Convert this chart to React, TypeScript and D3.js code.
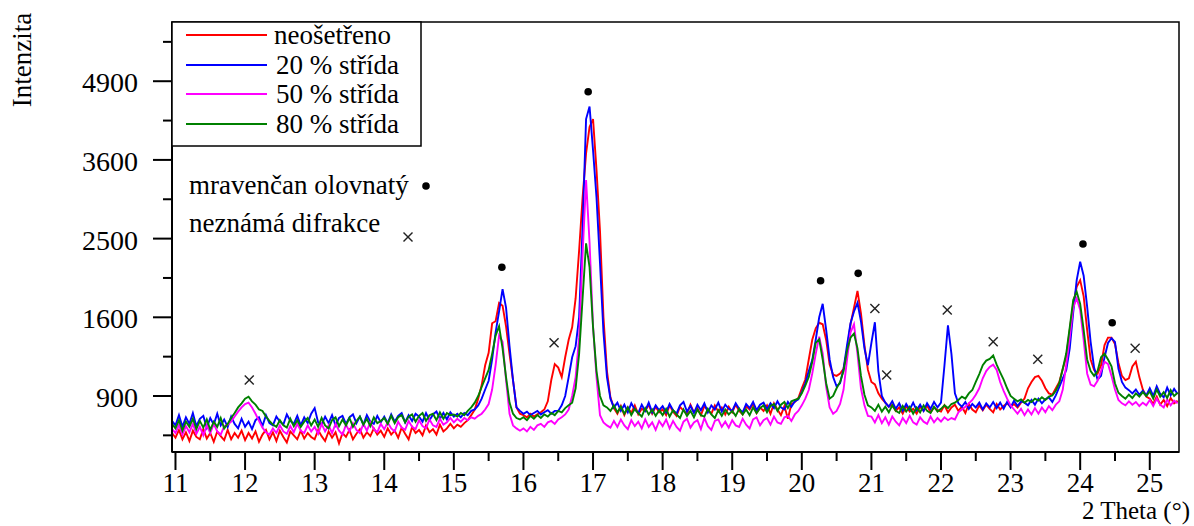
import React from "react";
import * as d3 from "d3";

// measurement grid (2 Theta, degrees)
const THETA_START = 10.95;
const THETA_STEP = 0.05;

// intensities, one value per grid step (10.95 … 25.40)
const NEOSETRENO = [
  640,
  610, 660, 600, 645, 590, 655, 615, 600, 665, 605, 640, 585, 650, 620, 595, 660, 600, 640, 610, 655,
  595, 640, 605, 650, 585, 630, 660, 600, 645, 590, 655, 615, 580, 650, 625, 600, 655, 605, 640, 615,
  600, 660, 620, 590, 650, 610, 645, 575, 640, 615, 660, 600, 635, 665, 610, 645, 620, 670, 630, 655,
  615, 670, 630, 655, 610, 675, 635, 600, 680, 640, 660, 625, 690, 645, 665, 630, 695, 650, 670, 700,
  670, 695, 680, 705, 725, 760, 800, 880, 985, 1150, 1260, 1540, 1560, 1750, 1720, 1510, 1250, 1026, 815, 770,
  760, 745, 770, 750, 765, 780, 800, 860, 1026, 1160, 1130, 1050, 1220, 1380, 1500, 1800, 2350, 3050, 3700, 4120,
  4250, 3450, 2600, 1600, 1100, 890, 810, 770, 825, 760, 815, 775, 830, 765, 805, 790, 835, 770, 820, 780,
  800, 760, 830, 785, 755, 820, 790, 770, 835, 780, 810, 760, 825, 795, 770, 830, 785, 815, 765, 820,
  780, 835, 790, 765, 825, 800, 840, 775, 815, 790, 830, 770, 845, 800, 760, 825, 735, 840, 855, 885,
  960, 1030, 1200, 1380, 1490, 1545, 1530, 1378, 1155, 1070, 1060, 1080, 1120, 1280, 1530, 1700, 1880, 1640, 1330, 1110,
  1010, 990, 920, 880, 850, 820, 835, 790, 815, 770, 825, 785, 805, 770, 820, 790, 830, 780, 815, 795,
  785, 830, 780, 815, 835, 790, 820, 775, 840, 800, 780, 830, 795, 835, 805, 780, 840, 800, 825, 845,
  820, 840, 815, 850, 880, 960, 1010, 1050, 1060, 1020, 960, 920, 910, 960, 1010, 1120, 1225, 1474, 1740, 1925,
  2000, 1820, 1474, 1200, 1109, 1080, 1150, 1330, 1400, 1400, 1340, 1170, 1060, 1026, 1040, 1140, 1180, 1050, 950, 895,
  880, 840, 895, 835, 870, 825, 885, 845, 865,
];

const STRIDA_20 = [
  720,
  690, 760, 680, 745, 700, 775, 685, 735, 755, 675, 740, 695, 770, 690, 730, 680, 750, 700, 670, 735,
  680, 715, 665, 725, 745, 685, 760, 705, 690, 750, 715, 695, 765, 720, 700, 755, 690, 745, 705, 770,
  810, 710, 695, 750, 705, 760, 690, 740, 755, 700, 745, 765, 705, 750, 695, 760, 715, 700, 755, 710,
  750, 705, 765, 715, 755, 775, 710, 760, 720, 770, 750, 715, 775, 725, 765, 785, 735, 775, 730, 780,
  750, 770, 745, 775, 760, 790, 800, 830, 880, 950, 1020, 1200, 1450, 1660, 1900, 1700, 1320, 1026, 815, 790,
  770, 785, 760, 775, 790, 765, 780, 795, 770, 790, 790, 830, 900, 1050, 1220, 1320, 1600, 2650, 4250, 4460,
  3750, 3050, 2200, 1450, 1050, 880, 815, 850, 790, 835, 780, 845, 800, 775, 835, 790, 850, 780, 830, 795,
  825, 780, 840, 795, 770, 830, 855, 785, 825, 775, 835, 795, 845, 780, 830, 800, 850, 785, 835, 805,
  790, 845, 805, 780, 840, 810, 855, 795, 835, 850, 800, 845, 810, 860, 815, 800, 855, 820, 860, 875,
  930, 1000, 1100, 1195, 1380, 1600, 1740, 1474, 1200, 1050, 975, 1000, 1120, 1330, 1540, 1660, 1750, 1560, 1300, 1150,
  1350, 1550, 1100, 900, 850, 820, 860, 805, 845, 790, 840, 800, 850, 795, 835, 790, 845, 805, 855, 815,
  850, 1150, 1520, 1250, 920, 845, 820, 855, 805, 840, 815, 850, 800, 845, 815, 855, 810, 850, 805, 855,
  815, 865, 825, 860, 850, 830, 870, 835, 880, 845, 875, 890, 855, 905, 970, 1040, 1109, 1300, 1650, 2000,
  2215, 2050, 1710, 1360, 1130, 1030, 1060, 1220, 1350, 1395, 1360, 1120, 1010, 965, 945, 920, 950, 910, 940, 905,
  960, 900, 975, 915, 890, 965, 905, 955, 915,
];

const STRIDA_50 = [
  665,
  640, 695, 630, 685, 645, 700, 635, 680, 625, 690, 640, 700, 650, 630, 685, 695, 715, 750, 785, 815,
  840, 850, 815, 770, 720, 675, 645, 630, 670, 640, 690, 650, 635, 685, 645, 700, 655, 640, 690, 650,
  680, 635, 700, 650, 690, 640, 700, 655, 630, 695, 650, 705, 660, 640, 700, 655, 710, 665, 645, 700,
  665, 710, 670, 650, 715, 675, 660, 720, 680, 665, 725, 685, 670, 730, 690, 680, 735, 695, 710, 740,
  710, 735, 715, 740, 725, 745, 735, 755, 770, 800, 840, 950, 1150, 1420, 1360, 1026, 770, 690, 670, 655,
  670, 650, 680, 660, 690, 700, 680, 710, 720, 700, 730, 745, 765, 800, 900, 1050, 1400, 2300, 3300, 2450,
  1510, 1050, 760, 710, 690, 675, 720, 680, 730, 690, 665, 725, 685, 715, 670, 730, 680, 710, 660, 720,
  685, 730, 670, 720, 680, 655, 715, 735, 675, 710, 725, 665, 740, 685, 660, 720, 730, 680, 715, 675,
  725, 690, 680, 735, 695, 670, 730, 745, 690, 725, 740, 695, 750, 710, 700, 745, 755, 720, 765, 790,
  830, 880, 946, 1080, 1250, 1410, 1255, 970, 815, 770, 790, 840, 950, 1200, 1450, 1530, 1250, 960, 830, 755,
  750, 710, 760, 705, 745, 695, 750, 715, 690, 740, 705, 755, 710, 695, 745, 715, 700, 750, 710, 740,
  715, 745, 725, 740, 730, 780, 800, 820, 845, 870, 910, 960, 1040, 1100, 1135, 1155, 1110, 1010, 940, 880,
  830, 800, 770, 805, 760, 800, 765, 810, 770, 815, 780, 825, 795, 835, 860, 950, 1155, 1400, 1700, 1800,
  1675, 1378, 1080, 990, 975, 1020, 1100, 1180, 1160, 1060, 950, 870, 845, 830, 860, 835, 855, 825, 850, 830,
  870, 825, 880, 835, 815, 875, 830, 865, 845,
];

const STRIDA_80 = [
  700,
  670, 725, 655, 715, 680, 735, 665, 720, 675, 730, 660, 715, 680, 740, 670, 700, 740, 775, 815, 845,
  880, 895, 860, 835, 800, 790, 750, 720, 695, 680, 725, 690, 675, 735, 685, 725, 680, 715, 740, 690,
  730, 680, 740, 690, 670, 725, 745, 685, 730, 690, 740, 680, 720, 750, 695, 735, 685, 745, 705, 720,
  740, 700, 755, 705, 745, 760, 710, 750, 765, 715, 755, 775, 720, 760, 770, 725, 780, 735, 775, 760,
  765, 750, 775, 760, 790, 815, 850, 900, 970, 1040, 1110, 1250, 1420, 1510, 1300, 1050, 850, 770, 740, 730,
  745, 725, 755, 735, 760, 740, 765, 750, 775, 760, 790, 780, 810, 830, 850, 960, 1250, 1800, 2440, 2150,
  1500, 1100, 900, 830, 815, 790, 830, 780, 820, 770, 815, 760, 805, 775, 750, 810, 765, 800, 755, 795,
  760, 805, 750, 795, 765, 740, 800, 755, 790, 745, 800, 760, 750, 805, 765, 740, 795, 755, 800, 765,
  790, 755, 805, 765, 800, 760, 815, 775, 810, 830, 780, 825, 840, 790, 835, 855, 810, 860, 870, 880,
  920, 980, 1050, 1180, 1350, 1385, 1200, 1000, 880, 900, 960, 1010, 1100, 1280, 1400, 1440, 1300, 1060, 910, 830,
  815, 790, 835, 785, 820, 780, 830, 790, 775, 825, 785, 820, 770, 815, 780, 830, 790, 775, 820, 785,
  805, 830, 810, 840, 850, 870, 895, 880, 920, 946, 1010, 1075, 1150, 1190, 1205, 1235, 1155, 1090, 1030, 960,
  900, 880, 860, 875, 850, 870, 855, 880, 865, 890, 870, 895, 905, 940, 1000, 1120, 1255, 1500, 1780, 1870,
  1740, 1474, 1200, 1100, 1060, 1100, 1220, 1250, 1200, 1140, 1000, 925, 900, 880, 910, 885, 920, 895, 930, 900,
  935, 880, 950, 895, 930, 885, 945, 900, 925,
];

const SERIES_NAMES = ["neošetřeno", "20 % střída", "50 % střída", "80 % střída"];
const SERIES_COLORS = ["#ff0000", "#0000ff", "#ff00ff", "#008000"];
const SERIES_VALUES = [NEOSETRENO, STRIDA_20, STRIDA_50, STRIDA_80];

// peak annotations
const DOT_X = [15.69, 16.93, 20.27, 20.81, 24.04, 24.46];
const DOT_Y = [2149, 4715, 1994, 2078, 2432, 1545];
const CROSS_X = [12.06, 16.44, 21.05, 21.22, 22.09, 22.75, 23.39, 24.79];
const CROSS_Y = [1026, 1352, 1692, 1067, 1675, 1362, 1201, 1300];

// axes
const X_TICKS = [11, 12, 13, 14, 15, 16, 17, 18, 19, 20, 21, 22, 23, 24, 25];
const X_MINOR = [11.5, 12.5, 13.5, 14.5, 15.5, 16.5, 17.5, 18.5, 19.5, 20.5, 21.5, 22.5, 23.5, 24.5];
const Y_TICKS = [900, 1600, 2500, 3600, 4900];
const Y_MINOR = [625, 1225, 2025, 3025, 4225, 5625];

const FONT = "'Liberation Serif', 'Times New Roman', serif";

export default function App() {
  const W = 1194;
  const H = 526;
  const L = 172, R = 1179, T = 22, B = 452;
  const x = d3.scaleLinear().domain([10.95, 25.42]).range([L, R]);
  const y = d3.scaleSqrt().domain([523.7, 6010]).range([B, T]);
  const n = NEOSETRENO.length;
  const theta = d3.range(n).map((i) => +(THETA_START + i * THETA_STEP).toFixed(2));
  const line = d3
    .line<number>()
    .x((_, i) => x(theta[i]))
    .y((d) => y(d));

  const legendY = [35, 65, 94, 124];

  const cross = (cx: number, cy: number, key: string | number) => (
    <g key={key} stroke="#222" strokeWidth={1.4}>
      <line x1={cx - 4.5} y1={cy - 4.5} x2={cx + 4.5} y2={cy + 4.5} />
      <line x1={cx - 4.5} y1={cy + 4.5} x2={cx + 4.5} y2={cy - 4.5} />
    </g>
  );

  return (
    <svg
      width={W}
      height={H}
      style={{ position: "absolute", left: 0, top: 0, background: "#fff" }}
      fontFamily={FONT}
    >
      <defs>
        <clipPath id="plot">
          <rect x={L} y={T} width={R - L} height={B - T} />
        </clipPath>
      </defs>
      <rect x={0} y={0} width={W} height={H} fill="#fff" />

      <g clipPath="url(#plot)" fill="none" strokeWidth={1.9} strokeLinejoin="miter">
        {SERIES_VALUES.map((vals, k) => (
          <path key={k} d={line(vals) || ""} stroke={SERIES_COLORS[k]} />
        ))}
      </g>

      {DOT_X.map((dx, i) => (
        <circle key={"d" + i} cx={x(dx)} cy={y(DOT_Y[i])} r={3.8} fill="#000" />
      ))}
      {CROSS_X.map((cx, i) => cross(x(cx), y(CROSS_Y[i]), "c" + i))}

      {/* frame */}
      <rect x={L} y={T} width={R - L} height={B - T} fill="none" stroke="#000" strokeWidth={1.5} />
      <line x1={L} y1={B} x2={R} y2={B} stroke="#000" strokeWidth={2} />
      <line x1={L} y1={T} x2={L} y2={B} stroke="#000" strokeWidth={2} />

      {/* x ticks */}
      {X_TICKS.map((t) => (
        <g key={"xt" + t}>
          <line x1={x(t)} x2={x(t)} y1={B} y2={B + 18} stroke="#000" strokeWidth={2} />
          <text x={x(t)} y={492} textAnchor="middle" fontSize={27} fill="#000">
            {t}
          </text>
        </g>
      ))}
      {X_MINOR.map((t) => (
        <line key={"xm" + t} x1={x(t)} x2={x(t)} y1={B} y2={B + 9} stroke="#000" strokeWidth={2} />
      ))}

      {/* y ticks */}
      {Y_TICKS.map((t) => (
        <g key={"yt" + t}>
          <line x1={L - 19} x2={L} y1={y(t)} y2={y(t)} stroke="#000" strokeWidth={2} />
          <text x={138} y={y(t) + 11} textAnchor="end" fontSize={28} fill="#000">
            {t}
          </text>
        </g>
      ))}
      {Y_MINOR.map((t) => (
        <line key={"ym" + t} x1={L - 9} x2={L} y1={y(t)} y2={y(t)} stroke="#000" strokeWidth={2} />
      ))}

      {/* axis titles */}
      <text x={1190} y={519} textAnchor="end" fontSize={25} fill="#000">
        2 Theta (°)
      </text>
      <text
        transform="translate(31,60) rotate(-90)"
        textAnchor="middle"
        fontSize={27}
        fill="#000"
      >
        Intenzita
      </text>

      {/* legend */}
      <rect x={L} y={T} width={421 - L} height={146 - T} fill="#fff" stroke="#000" strokeWidth={1.5} />
      {SERIES_NAMES.map((name, k) => (
        <g key={"lg" + k}>
          <line x1={186} x2={267} y1={legendY[k]} y2={legendY[k]} stroke={SERIES_COLORS[k]} strokeWidth={1.8} />
          <text x={k === 0 ? 274 : 276} y={legendY[k] + 9} fontSize={27} fill="#000">
            {name}
          </text>
        </g>
      ))}

      <text x={189} y={194} fontSize={27} fill="#000">
        mravenčan olovnatý
      </text>
      <circle cx={426} cy={186} r={3.8} fill="#000" />
      <text x={189} y={232} fontSize={27} fill="#000">
        neznámá difrakce
      </text>
      {cross(408, 237, "legx")}
    </svg>
  );
}
